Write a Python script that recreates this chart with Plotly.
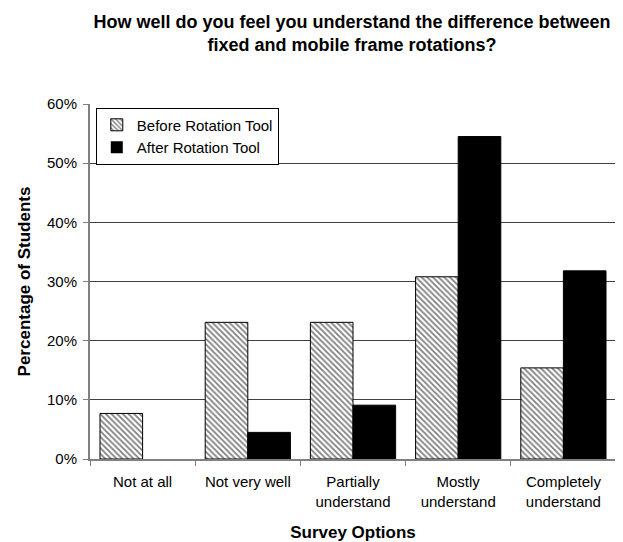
import plotly.graph_objects as go

categories = ["Not at all", "Not very well", "Partially<br>understand",
              "Mostly<br>understand", "Completely<br>understand"]
before_vals = [7.7, 23.1, 23.1, 30.8, 15.4]
after_vals = [0.0, 4.5, 9.1, 54.5, 31.8]
y_ticks = [0, 10, 20, 30, 40, 50, 60]
y_tick_labels = ["0%", "10%", "20%", "30%", "40%", "50%", "60%"]

FONT = "Liberation Sans, Arial, sans-serif"
W, H = 615, 534  # page body has an 8px margin

fig = go.Figure()
fig.add_trace(go.Bar(
    x=categories, y=before_vals, name="Before Rotation Tool",
    marker=dict(color="white",
                line=dict(color="black", width=[1 if v > 0 else 0 for v in before_vals]),
                pattern=dict(shape="\\", fgcolor="black", bgcolor="white",
                             size=4, solidity=0.45)),
))
fig.add_trace(go.Bar(
    x=categories, y=after_vals, name="After Rotation Tool",
    marker=dict(color="black",
                line=dict(color="black", width=[1 if v > 0 else 0 for v in after_vals])),
))

fig.update_layout(
    width=W, height=H,
    margin=dict(l=82, r=7, t=96, b=83),
    paper_bgcolor="white", plot_bgcolor="white",
    barmode="group", bargap=0.19, bargroupgap=0,
    font=dict(family=FONT, size=15, color="black"),
    title=dict(
        text="<b>How well do you feel you understand the difference between<br>fixed and mobile frame rotations?</b>",
        x=344 / W, xanchor="center", xref="container",
        y=1 - 20 / H, yanchor="top", yref="container",
        font=dict(family=FONT, size=18, color="black"),
    ),
    legend=dict(
        x=0.011, xanchor="left", y=0.99, yanchor="top",
        bgcolor="white", bordercolor="black", borderwidth=1,
        font=dict(family=FONT, size=15, color="black"),
        itemwidth=30, tracegroupgap=0,
    ),
    showlegend=True,
)
fig.update_xaxes(
    type="category", showline=True, linecolor="#808080", linewidth=2,
    ticks="outside", tickson="boundaries", ticklen=5, tickcolor="#808080",
    ticklabelstandoff=8, automargin=False,
    showgrid=False,
    title=dict(text="<b>Survey Options</b>", font=dict(family=FONT, size=17), standoff=18),
    tickfont=dict(family=FONT, size=15),
)
fig.update_yaxes(
    range=[0, 60], tickvals=y_ticks, ticktext=y_tick_labels,
    showline=True, linecolor="#808080", linewidth=2,
    ticks="outside", ticklen=5, tickcolor="#808080",
    ticklabelstandoff=3, automargin=False,
    showgrid=True, gridcolor="#404040", gridwidth=1,
    zeroline=False,
    title=dict(text="<b>Percentage of Students</b>", font=dict(family=FONT, size=17), standoff=12),
    tickfont=dict(family=FONT, size=15),
)

fig.write_html("out.html")
